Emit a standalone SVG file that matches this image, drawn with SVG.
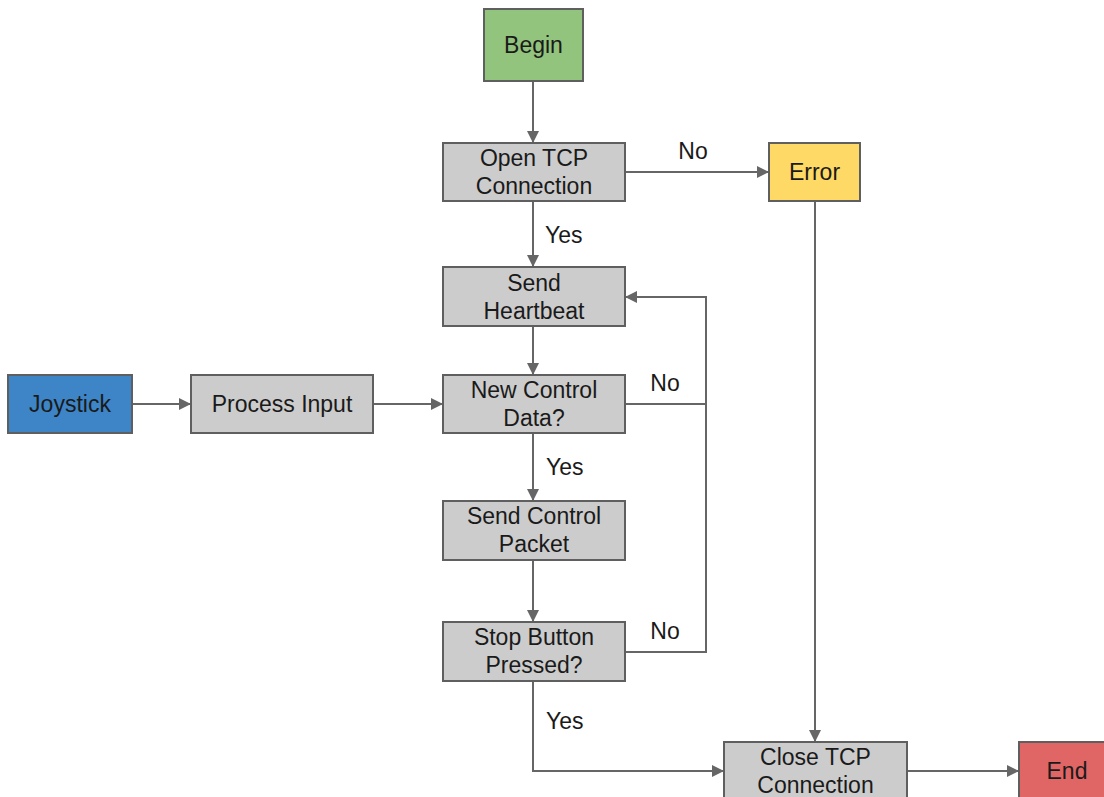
<svg xmlns="http://www.w3.org/2000/svg" width="1104" height="797" viewBox="0 0 1104 797">
<defs>
<marker id="ah" viewBox="0 0 10 10" refX="10" refY="5" markerWidth="6" markerHeight="6" orient="auto" markerUnits="strokeWidth">
<path d="M0,0 L10,5 L0,10 z" fill="#666666"/>
</marker>
<style>
.box{stroke:#5f5f5f;stroke-width:2}
.g{fill:#cccccc}
text{font-family:"Liberation Sans",Arial,sans-serif;font-size:23px;fill:#1a1a1a;text-anchor:middle}
.lbl{text-anchor:start}
.c{fill:none;stroke:#666666;stroke-width:2;marker-end:url(#ah)}
.cn{fill:none;stroke:#666666;stroke-width:2}
</style>
</defs>
<rect width="1104" height="797" fill="#ffffff"/>
<g id="connectors">
<path class="c" d="M533,81 V143"/>
<path class="c" d="M625,172 H769"/>
<path class="c" d="M533,201 V267"/>
<path class="c" d="M533,326 V375"/>
<path class="c" d="M132,404 H191"/>
<path class="c" d="M373,404 H443"/>
<path class="cn" d="M625,404 H706"/>
<path class="c" d="M625,652 H706 V297 H625"/>
<path class="c" d="M533,433 V501"/>
<path class="c" d="M533,560 V622"/>
<path class="c" d="M533,681 V771 H724"/>
<path class="c" d="M815,201 V742"/>
<path class="c" d="M907,771 H1019"/>
<text x="693" y="159">No</text>
<text class="lbl" x="545" y="243">Yes</text>
<text x="665" y="391">No</text>
<text class="lbl" x="546" y="475">Yes</text>
<text x="665" y="639">No</text>
<text class="lbl" x="546" y="729">Yes</text>
</g>
<g id="begin"><rect class="box" x="484" y="9" width="99" height="72" fill="#93c47d"/><text x="533.5" y="53">Begin</text></g>
<g id="open-tcp"><rect class="box g" x="443" y="143" width="182" height="58"/><text x="534" y="166">Open TCP</text><text x="534" y="194">Connection</text></g>
<g id="error"><rect class="box" x="769" y="143" width="91" height="58" fill="#ffd966"/><text x="814.5" y="180">Error</text></g>
<g id="send-heartbeat"><rect class="box g" x="443" y="267" width="182" height="59"/><text x="534" y="291">Send</text><text x="534" y="319">Heartbeat</text></g>
<g id="joystick"><rect class="box" x="8" y="375" width="124" height="58" fill="#3d85c6"/><text x="70" y="412">Joystick</text></g>
<g id="process-input"><rect class="box g" x="191" y="375" width="182" height="58"/><text x="282" y="412">Process Input</text></g>
<g id="new-control-data"><rect class="box g" x="443" y="375" width="182" height="58"/><text x="534" y="398">New Control</text><text x="534" y="426">Data?</text></g>
<g id="send-control-packet"><rect class="box g" x="443" y="501" width="182" height="59"/><text x="534" y="524">Send Control</text><text x="534" y="552">Packet</text></g>
<g id="stop-button"><rect class="box g" x="443" y="622" width="182" height="59"/><text x="534" y="645">Stop Button</text><text x="534" y="673">Pressed?</text></g>
<g id="close-tcp"><rect class="box g" x="724" y="742" width="183" height="70"/><text x="815.5" y="765">Close TCP</text><text x="815.5" y="793">Connection</text></g>
<g id="end"><rect class="box" x="1019" y="742" width="95" height="70" fill="#e06666"/><text x="1067" y="779">End</text></g>
</svg>
